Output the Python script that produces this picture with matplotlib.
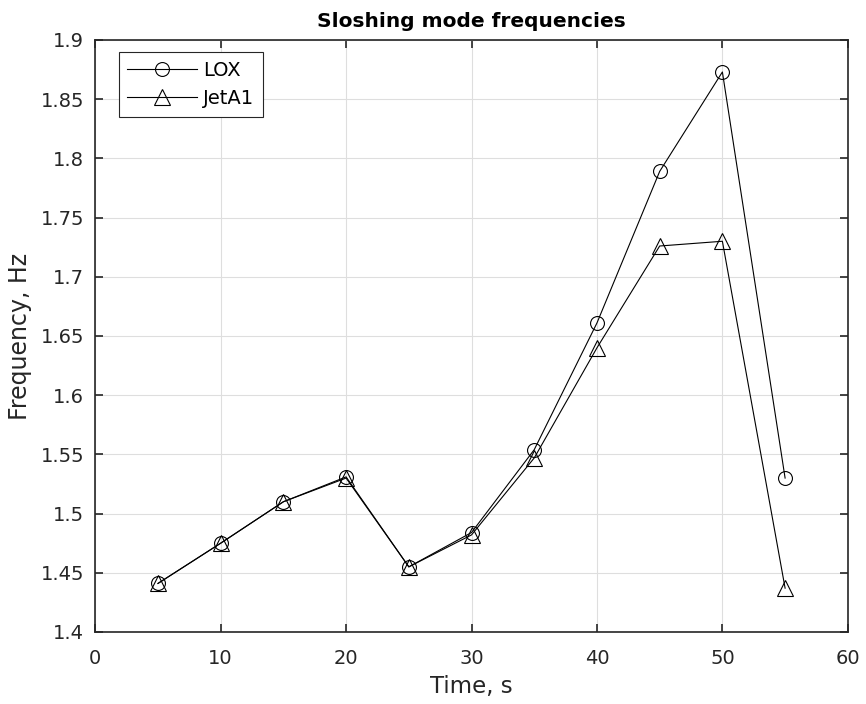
import matplotlib
matplotlib.use("Agg")
import matplotlib.pyplot as plt

plt.rcParams['font.family'] = ['DejaVu Sans']

time_s = [5, 10, 15, 20, 25, 30, 35, 40, 45, 50, 55]
lox = [1.441, 1.475, 1.510, 1.531, 1.455, 1.484, 1.554, 1.661, 1.789, 1.873, 1.530]
jeta1 = [1.441, 1.475, 1.510, 1.530, 1.455, 1.482, 1.547, 1.640, 1.726, 1.730, 1.437]
xticks = [0, 10, 20, 30, 40, 50, 60]
yticks = [1.4, 1.45, 1.5, 1.55, 1.6, 1.65, 1.7, 1.75, 1.8, 1.85, 1.9]
ytick_labels = ['1.4', '1.45', '1.5', '1.55', '1.6', '1.65', '1.7', '1.75', '1.8', '1.85', '1.9']

fig = plt.figure(figsize=(8.66, 7.04), dpi=100)
ax = fig.add_axes([0.11, 0.1023, 0.869, 0.8409])

ax.plot(time_s, lox, '-o', color='black', lw=0.8, markersize=10,
        markerfacecolor='none', markeredgewidth=0.8, label='LOX')
ax.plot(time_s, jeta1, '-^', color='black', lw=0.8, markersize=11,
        markerfacecolor='none', markeredgewidth=0.8, label='JetA1')

ax.set_xlim(0, 60)
ax.set_ylim(1.4, 1.9)
ax.set_xticks(xticks)
ax.set_yticks(yticks)
ax.set_yticklabels(ytick_labels)
ax.grid(True, color='#dedede', lw=0.8)
ax.set_axisbelow(True)

axc = '#262626'
for s in ax.spines.values():
    s.set_color(axc)
    s.set_linewidth(1.2)
ax.tick_params(direction='in', top=True, right=True, length=6, width=1.2,
               colors=axc, labelsize=14)
ax.tick_params(axis='x', pad=12)
ax.tick_params(axis='y', pad=8)
for lab in ax.get_xticklabels() + ax.get_yticklabels():
    lab.set_color(axc)

ax.set_xlabel('Time, s', fontsize=16.5, color=axc, labelpad=5)
ax.set_ylabel('Frequency, Hz', fontsize=17, color=axc, labelpad=6)
ax.set_title('Sloshing mode frequencies', fontsize=14.5, fontweight='bold', pad=9)

leg = ax.legend(loc='upper left', fontsize=14, frameon=True, fancybox=False,
                edgecolor=axc, framealpha=1, borderpad=0.45, handlelength=3.6,
                bbox_to_anchor=(0.031, 0.98), borderaxespad=0,
                labelspacing=0.5, handletextpad=0.3)
leg.get_frame().set_linewidth(0.8)

fig.savefig('out.png', dpi=100)
